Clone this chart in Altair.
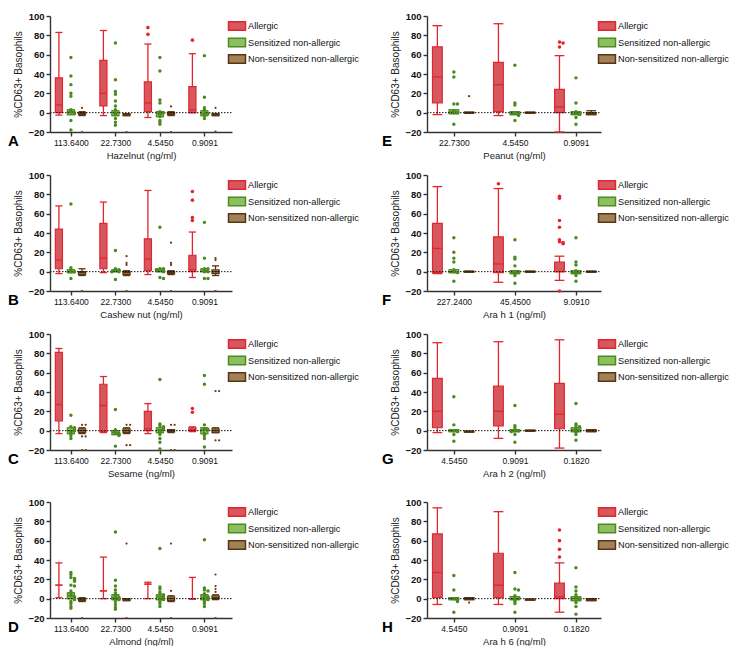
import json
import altair as alt
import pandas as pd

FONT = "Liberation Sans"
GROUPS = ["Allergic", "Sensitized non-allergic", "Non-sensitized non-allergic"]
FILL = ["#d6575d", "#8dbf5e", "#a08259"]
STROKE = ["#e3262e", "#4e8a22", "#5b3512"]
PTCOL = ["#e3262e", "#4b8a1f", "#6a3a14"]
PTSIZE = [13, 12, 5]
OFFS = [-0.27, 0.0, 0.25]

# ---------- Panel A : Hazelnut ----------
CONC_A = ["113.6400", "22.7300", "4.5450", "0.9091"]
RED_A = [[-2.5, 0, 8, 36, 83], [-3, 7, 20, 54, 85], [-5, 1, 10, 32, 71], [0, 0, 3, 27, 61]]
GRN_A = [[-2, -2, 1, 3, 3], [-3, -3, 0, 2, 2], [-4, -4, -1, 1, 1], [-3, -3, -1, 2, 2]]
BRN_A = [[-3, -2, -1, 0, 1], [-3, -3, -2, -1, -1], [-3, -2, -1, 0, 1], [-3, -3, -2, -1, -1]]
RED_PTS_A = [[], [], [88, 81], [75]]
GRN_PTS_A = [[57, 38, 29, 20, 17, 3, 1, 0, -1, -8, -18],
             [72, 34, 22, 19, 12, 7, 3, 0, -2, -6, -10, -13],
             [57, 43, 13, 10, 1, 0, -2, -4, -8, -10, -12],
             [59, 16, 5, 3, 0, -1, -3, -6]]
BRN_PTS_A = [[5, -20], [-20], [6.5, -20], [5, -19.5]]

# ---------- Panel B : Cashew nut ----------
CONC_B = ["113.6400", "22.7300", "4.5450", "0.9091"]
RED_B = [[-2, 3, 12, 44, 68], [-1, 3, 14, 50, 72], [-3, 1, 13, 34, 84], [-6, 0, 2, 17, 41]]
GRN_B = [[-1, -1, 0, 2, 2], [0, 0, 1, 2, 2], [0, 0, 1, 3, 3], [0, 0, 1, 3, 3]]
BRN_B = [[-4, -3, -1, 0, 3], [-4, -3, -1, 0, 1], [-3, -2, -1, 0, 1], [-4, -2, 0, 2, 6]]
RED_PTS_B = [[], [], [], [83, 74, 56, 53]]
GRN_PTS_B = [[70, 4, 2, 0, 0, -7],
             [22, 3, 2, 1, 0, 0, -8],
             [46, 3, 3, 2, 1, 0, -6, -7],
             [51, 14, 3, 3, 0, 0, -7, -7]]
BRN_PTS_B = [[-20], [16, 9, 7, -20], [30, 9, 7, -20], [14, 12, -20]]

# ---------- Panel C : Sesame ----------
CONC_C = ["113.6400", "22.7300", "4.5450", "0.9091"]
RED_C = [[-3, 10, 27, 81, 85], [-2, -1, 26, 48, 56], [-3, 0, 2, 20, 28], [-1, 0, 1, 3, 4]]
GRN_C = [[-3, -3, 0, 3, 3], [-4, -4, -2, 0, 0], [-2, -2, 1, 3, 3], [-3, -3, 1, 3, 3]]
BRN_C = [[-3, -2, 0, 2, 3], [-3, -2, 0, 2, 3], [-2, -1, 0, 1, 1], [-2, -2, 0, 2, 3]]
RED_PTS_C = [[], [], [], [23, 19]]
GRN_PTS_C = [[16, 4, 3, 2, 1, 0, -2, -5, -8],
             [22, 1, -2, -3, -4, -5, -16],
             [53, 7, 5, 4, 3, 2, 0, -2, -4, -8, -12, -19],
             [57, 48, 6, 2, 1, -3, -5, -8, -17]]
BRN_PTS_C = [[6, 6, -6, -6, -20, -20], [6, 6, -15, -15], [6, 6, -20, -20], [41, 41, -10, -10]]

# ---------- Panel D : Almond ----------
CONC_D = ["113.6400", "22.7300", "4.5450", "0.9091"]
RED_D = [[1, 14, 14, 14, 37], [0, 8, 8, 8, 43], [0, 15, 15, 15, 17], [-0.5, 0, 0, 0, 22]]
GRN_D = [[0, 0, 3, 6, 6], [-1, -1, 1, 4, 4], [-1, -1, 2, 4, 4], [-1, -1, 1, 4, 4]]
BRN_D = [[-3, -2, -1, 0, 1], [-2, -2, -1, 0, 0], [-3, -2, 0, 2, 3], [-1, 0, 1, 3, 4]]
RED_PTS_D = [[], [], [], []]
GRN_PTS_D = [[27, 25, 22, 21, 20, 19, 18, 14, 13, 8, 5, 3, 2, 1, 0, -1, -3, -5, -8, -10],
             [69, 19, 13, 9, 6, 4, 2, 1, 0, -1, -3, -6, -9, -11],
             [52, 12, 10, 7, 5, 4, 3, 2, 0, -1, -3, -5, -8],
             [61, 11, 9, 8, 5, 3, 2, 1, 0, -1, -3, -5, -8]]
BRN_PTS_D = [[-20], [57, -20], [57, 8, -20], [25, 13, 10, 7, -20]]

# ---------- Panel E : Peanut ----------
CONC_E = ["22.7300", "4.5450", "0.9091"]
RED_E = [[-2, 10, 37, 68, 90], [-3, 1, 29, 52, 92], [-20, 0, 6, 24, 59]]
GRN_E = [[-1, -1, 1, 3, 3], [-2, -2, -1, 1, 1], [-2, -2, -1, 1, 1]]
BRN_E = [[-0.5, -0.5, 0, 0.5, 0.5], [-0.5, -0.5, 0, 0.5, 0.5], [-2, -2, -1, 0, 2]]
RED_PTS_E = [[], [], [73, 72, 68]]
GRN_PTS_E = [[42, 37, 9, 9, 2, 0, 0, -12],
             [49, 10, 8, 0, -1, -2, -3, -8],
             [36, 10, 1, 0, -1, -2, -5, -12]]
BRN_PTS_E = [[17], [], []]

# ---------- Panel F : Ara h 1 ----------
CONC_F = ["227.2400", "45.4500", "9.0910"]
RED_F = [[-2, -1, 24, 50, 88], [-11, -1, 8, 36, 86], [-9, 0, 0, 10, 16]]
GRN_F = [[-1, -1, 0, 2, 2], [-2, -2, -1, 1, 1], [-2, -2, -1, 1, 1]]
BRN_F = [[-0.5, -0.5, 0, 0.5, 0.5], [-0.5, -0.5, 0, 0.5, 0.5], [-0.5, -0.5, 0, 0.5, 0.5]]
RED_PTS_F = [[], [91], [78, 76, 53, 46, 33, 31, 30, 29, -20]]
GRN_PTS_F = [[35, 20, 14, 10, 2, 0, -1, -10],
             [33, 15, 13, 6, 0, -2, -4, -12],
             [35, 10, 7, 1, -1, -4, -10]]
BRN_PTS_F = [[], [], []]

# ---------- Panel G : Ara h 2 ----------
CONC_G = ["4.5450", "0.9091", "0.1820"]
RED_G = [[-2, 3, 20, 54, 91], [-8, 5, 20, 46, 92], [-18, 2, 17, 49, 94]]
GRN_G = [[-1, -1, 0, 1, 1], [-1, -1, 0, 1, 1], [-1, -1, 1, 3, 3]]
BRN_G = [[-1.5, -1.5, -1, -0.5, -0.5], [-0.5, -0.5, 0, 0.5, 0.5], [-1, -1, 0, 1, 1]]
RED_PTS_G = [[], [], []]
GRN_PTS_G = [[35, 6, 0, -1, -4, -11],
             [26, 5, 3, 0, 0, -1, -4, -12],
             [28, 7, 5, 4, 2, 0, -2, -4, -10]]
BRN_PTS_G = [[], [], []]

# ---------- Panel H : Ara h 6 ----------
CONC_H = ["4.5450", "0.9091", "0.1820"]
RED_H = [[-6, 1, 27, 67, 94], [-6, 1, 14, 47, 90], [-14, 0, 2, 16, 37]]
GRN_H = [[-1, -1, 0, 1, 1], [-1, -1, 0, 2, 2], [-2, -2, 0, 2, 2]]
BRN_H = [[-1, -1, 0, 1, 1], [-1.5, -1.5, -1, -0.5, -0.5], [-2, -2, -1, 0, 0]]
RED_PTS_H = [[], [], [71, 60, 51, 43]]
GRN_PTS_H = [[24, 9, 0, -1, -2, -3, -14],
             [27, 10, 9, 3, 1, -1, -3, -5, -14],
             [32, 12, 8, 4, 1, 0, -1, -4, -8, -16]]
BRN_PTS_H = [[-4], [], []]

H = 116
LEFT_W, RIGHT_W = 182, 174
LEFT_DOM, RIGHT_DOM = [-0.47, 3.62], [-0.44, 2.41]


def spread(vals, ppu, step_px=3.6, thr=1.5):
    pattern = [0, 1, -1, 2, -2, 3, -3]
    order = sorted(range(len(vals)), key=lambda k: -vals[k])
    placed, offs = [], [0.0] * len(vals)
    for k in order:
        n = sum(1 for pv in placed if abs(pv - vals[k]) < thr)
        offs[k] = pattern[n % len(pattern)] * step_px / ppu
        placed.append(vals[k])
    return offs


def panel(letter, letter_dx, title, conc, boxes, pts, W, dom, leg_x):
    ppu = W / (dom[1] - dom[0])
    hw = 0.08
    brows, prows = [], []
    for gi in range(3):
        for ci in range(len(conc)):
            pos = ci + OFFS[gi]
            b = boxes[gi][ci]
            brows.append(dict(group=GROUPS[gi], pos=pos, left=pos - hw, right=pos + hw,
                              low=b[0], q1=b[1], med=b[2], q3=b[3], high=b[4], scol=STROKE[gi]))
            vals = pts[gi][ci]
            for v, o in zip(vals, spread(vals, ppu)):
                prows.append(dict(group=GROUPS[gi], x=pos + o, y=v, pcol=PTCOL[gi], size=PTSIZE[gi]))
    bdf = pd.DataFrame(brows)
    pdf = pd.DataFrame(prows) if prows else pd.DataFrame(dict(group=[], x=[], y=[], pcol=[], size=[]))

    xs = alt.Scale(domain=dom, nice=False, zero=False)
    ys = alt.Scale(domain=[-20, 100], nice=False, zero=False)
    label_expr = json.dumps(conc) + "[datum.value]"
    xaxis = alt.Axis(values=list(range(len(conc))), labelExpr=label_expr, title=title)
    yaxis = alt.Axis(values=list(range(-20, 101, 20)), title="%CD63+ Basophils")

    def X(f):
        return alt.X(f, scale=xs, axis=xaxis)

    def Y(f):
        return alt.Y(f, scale=ys, axis=yaxis)

    leg = alt.Legend(orient="none", legendX=leg_x, legendY=5, title=None,
                     symbolType="M-2,-1H2V1H-2Z", symbolSize=72, symbolStrokeWidth=1.5,
                     labelFont=FONT, labelFontSize=9.2, labelColor="#111", labelOffset=6,
                     rowPadding=0.5, padding=0)

    base_b = alt.Chart(bdf)
    whisk = base_b.mark_rule(strokeWidth=1.3).encode(
        x=X("pos:Q"), y=Y("low:Q"), y2="high:Q", color=alt.Color("scol:N", scale=None))
    cap_lo = base_b.mark_rule(strokeWidth=1.3).encode(
        x=X("left:Q"), x2="right:Q", y=Y("low:Q"), color=alt.Color("scol:N", scale=None))
    cap_hi = base_b.mark_rule(strokeWidth=1.3).encode(
        x=X("left:Q"), x2="right:Q", y=Y("high:Q"), color=alt.Color("scol:N", scale=None))
    box = base_b.mark_rect(strokeWidth=1.2).encode(
        x=X("left:Q"), x2="right:Q", y=Y("q1:Q"), y2="q3:Q",
        fill=alt.Fill("group:N", scale=alt.Scale(domain=GROUPS, range=FILL), legend=leg),
        stroke=alt.Stroke("group:N", scale=alt.Scale(domain=GROUPS, range=STROKE), legend=leg))
    med = base_b.mark_rule(strokeWidth=1.3).encode(
        x=X("left:Q"), x2="right:Q", y=Y("med:Q"), color=alt.Color("scol:N", scale=None))
    zero = alt.Chart(pd.DataFrame({"z": [0]})).mark_rule(
        color="#111", strokeWidth=1, strokeDash=[1.5, 1.5]).encode(
        y=Y("z:Q"), x=alt.value(0), x2=alt.value(W))
    points = alt.Chart(pdf).mark_circle(opacity=1).encode(
        x=X("x:Q"), y=Y("y:Q"),
        color=alt.Color("pcol:N", scale=None), size=alt.Size("size:Q", scale=None))
    lab = alt.Chart(pd.DataFrame({"t": [letter]})).mark_text(
        align="left", baseline="alphabetic", fontSize=15, fontWeight="bold", font=FONT,
        color="#000").encode(x=alt.value(letter_dx), y=alt.value(H + 14), text="t:N")
    return alt.layer(whisk, cap_lo, cap_hi, box, med, zero, points, lab).properties(width=W, height=H)


def left(letter, title, conc, rb, gb, bb, rp, gp, bp):
    return panel(letter, -42, title, conc, [rb, gb, bb], [rp, gp, bp], LEFT_W, LEFT_DOM, LEFT_W)


def right(letter, title, conc, rb, gb, bb, rp, gp, bp):
    return panel(letter, -45, title, conc, [rb, gb, bb], [rp, gp, bp], RIGHT_W, RIGHT_DOM, RIGHT_W + 1)


def row(a, b):
    return alt.hconcat(a, b, spacing=23).resolve_scale(fill="independent", stroke="independent")


r1 = row(left("A", "Hazelnut (ng/ml)", CONC_A, RED_A, GRN_A, BRN_A, RED_PTS_A, GRN_PTS_A, BRN_PTS_A),
         right("E", "Peanut (ng/ml)", CONC_E, RED_E, GRN_E, BRN_E, RED_PTS_E, GRN_PTS_E, BRN_PTS_E))
r2 = row(left("B", "Cashew nut (ng/ml)", CONC_B, RED_B, GRN_B, BRN_B, RED_PTS_B, GRN_PTS_B, BRN_PTS_B),
         right("F", "Ara h 1 (ng/ml)", CONC_F, RED_F, GRN_F, BRN_F, RED_PTS_F, GRN_PTS_F, BRN_PTS_F))
r3 = row(left("C", "Sesame (ng/ml)", CONC_C, RED_C, GRN_C, BRN_C, RED_PTS_C, GRN_PTS_C, BRN_PTS_C),
         right("G", "Ara h 2 (ng/ml)", CONC_G, RED_G, GRN_G, BRN_G, RED_PTS_G, GRN_PTS_G, BRN_PTS_G))
r4 = row(left("D", "Almond (ng/ml)", CONC_D, RED_D, GRN_D, BRN_D, RED_PTS_D, GRN_PTS_D, BRN_PTS_D),
         right("H", "Ara h 6 (ng/ml)", CONC_H, RED_H, GRN_H, BRN_H, RED_PTS_H, GRN_PTS_H, BRN_PTS_H))

top3 = alt.vconcat(r1, r2, r3, spacing=10).resolve_scale(fill="independent", stroke="independent")
chart = alt.vconcat(top3, r4, spacing=19).resolve_scale(
    fill="independent", stroke="independent"
).properties(
    padding={"left": 0, "top": 3, "right": 0, "bottom": 0}
).configure_view(stroke=None).configure_axis(
    grid=False, labelFont=FONT, titleFont=FONT, domainColor="#333", domainWidth=1.4,
    tickColor="#333", tickWidth=1.4, tickSize=4, labelColor="#111", titleColor="#222"
).configure_axisY(
    labelFontWeight="bold", labelFontSize=9.5, labelPadding=2, titleFontSize=10,
    titleFontWeight="normal", titlePadding=4
).configure_axisX(
    labelFontSize=8.5, labelPadding=2, titleFontSize=9.5, titleFontWeight="normal", titlePadding=4
)

chart.save("out.html", embed_options={"renderer": "svg", "actions": False})
